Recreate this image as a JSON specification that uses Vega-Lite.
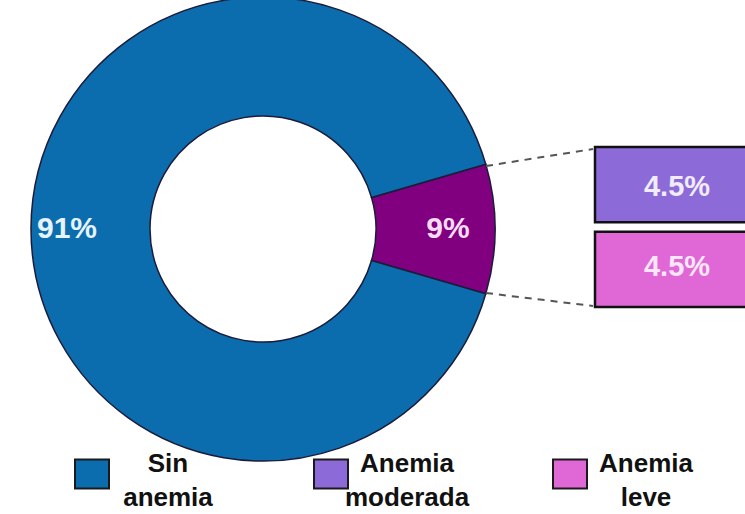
{
  "$schema": "https://vega.github.io/schema/vega-lite/v6.json",
  "width": 526,
  "height": 458,
  "autosize": {"type": "none"},
  "padding": {"left": 0, "top": 0, "right": 219, "bottom": 56},
  "background": "#ffffff",
  "config": {"view": {"stroke": null}, "font": "Liberation Sans"},
  "datasets": {
    "dona": [
      {"grupo": "Anemia", "pct": 9, "etiqueta": "9%"},
      {"grupo": "Sin anemia", "pct": 91, "etiqueta": "91%"}
    ],
    "desglose": [
      {"grupo": "Anemia moderada", "pct": 4.5, "etiqueta": "4.5%"},
      {"grupo": "Anemia leve", "pct": 4.5, "etiqueta": "4.5%"}
    ]
  },
  "resolve": {"scale": {"y": "independent"}},
  "layer": [
    {
      "data": {"name": "dona"},
      "mark": {"type": "arc", "innerRadius": 113, "outerRadius": 232, "stroke": "#1c1c3a", "strokeWidth": 1.5},
      "encoding": {
        "theta": {"field": "pct", "type": "quantitative", "stack": true, "scale": {"range": [1.2881, 7.5713]}},
        "order": {"field": "pct", "sort": "ascending"},
        "color": {
          "field": "grupo",
          "type": "nominal",
          "scale": {
            "domain": ["Sin anemia", "Anemia moderada", "Anemia leve", "Anemia"],
            "range": ["#0b6cae", "#8c6bd9", "#e068d6", "#800080"]
          },
          "legend": {
            "orient": "none",
            "legendX": 74,
            "legendY": 456,
            "direction": "horizontal",
            "title": null,
            "values": ["Sin anemia", "Anemia moderada", "Anemia leve"],
            "symbolType": "M-1,-0.85L1,-0.85L1,0.85L-1,0.85Z",
            "symbolSize": 1156,
            "symbolStrokeColor": "#1a1a1a",
            "symbolStrokeWidth": 2,
            "symbolOpacity": 1,
            "labelExpr": "split(datum.label, ' ')",
            "labelFont": "Liberation Sans",
            "labelFontSize": 26,
            "labelFontWeight": "bold",
            "labelColor": "#111111",
            "labelAlign": "center",
            "labelOffset": 58,
            "labelLimit": 300,
            "gridAlign": "all",
            "columnPadding": 79,
            "encode": {"labels": {"update": {"lineHeight": {"value": 34}, "dy": {"value": -10}}}}
          }
        }
      }
    },
    {
      "data": {"name": "dona"},
      "mark": {"type": "text", "radius": {"expr": "datum.pct > 50 ? 196 : 185"}, "fontSize": 30, "fontWeight": "bold", "font": "Liberation Sans"},
      "encoding": {
        "theta": {"field": "pct", "type": "quantitative", "stack": true},
        "order": {"field": "pct", "sort": "ascending"},
        "text": {"field": "etiqueta", "type": "nominal"},
        "fill": {"condition": {"test": "datum.pct > 50", "value": "#e6f3fb"}, "value": "#f7dcf5"}
      }
    },
    {
      "data": {"name": "desglose"},
      "mark": {"type": "rect", "stroke": "#111111", "strokeWidth": 2.5},
      "encoding": {
        "y": {"field": "grupo", "type": "nominal", "scale": {"domain": ["Anemia moderada", "Anemia leve"], "range": [147, 307], "paddingInner": 0.11, "paddingOuter": 0}, "axis": null},
        "x": {"datum": 595, "type": "quantitative", "scale": {"domain": [0, 526], "nice": false, "zero": false}, "axis": null},
        "x2": {"datum": 775},
        "color": {"field": "grupo", "type": "nominal"}
      }
    },
    {
      "data": {"name": "desglose"},
      "mark": {"type": "text", "fontSize": 29, "fontWeight": "bold", "font": "Liberation Sans"},
      "encoding": {
        "y": {"field": "grupo", "type": "nominal", "scale": {"domain": ["Anemia moderada", "Anemia leve"], "range": [147, 307], "paddingInner": 0.11, "paddingOuter": 0}, "axis": null},
        "x": {"datum": 677, "type": "quantitative", "scale": {"domain": [0, 526], "nice": false, "zero": false}, "axis": null},
        "text": {"field": "etiqueta", "type": "nominal"},
        "fill": {"condition": {"test": "datum.grupo == 'Anemia moderada'", "value": "#f1ecfc"}, "value": "#fbe6f8"}
      }
    },
    {
      "data": {"name": "desglose"},
      "transform": [{"filter": "datum.grupo == 'Anemia moderada'"}],
      "mark": {"type": "rule", "stroke": "#555555", "strokeWidth": 2, "strokeDash": [7, 6]},
      "encoding": {
        "x": {"datum": 486, "type": "quantitative", "scale": {"domain": [0, 526], "nice": false, "zero": false}, "axis": null},
        "x2": {"datum": 593},
        "y": {"datum": 166, "type": "quantitative", "scale": {"domain": [0, 458], "reverse": true, "nice": false, "zero": false}, "axis": null},
        "y2": {"datum": 149}
      }
    },
    {
      "data": {"name": "desglose"},
      "transform": [{"filter": "datum.grupo == 'Anemia leve'"}],
      "mark": {"type": "rule", "stroke": "#555555", "strokeWidth": 2, "strokeDash": [7, 6]},
      "encoding": {
        "x": {"datum": 486, "type": "quantitative", "scale": {"domain": [0, 526], "nice": false, "zero": false}, "axis": null},
        "x2": {"datum": 593},
        "y": {"datum": 293, "type": "quantitative", "scale": {"domain": [0, 458], "reverse": true, "nice": false, "zero": false}, "axis": null},
        "y2": {"datum": 306}
      }
    }
  ]
}
